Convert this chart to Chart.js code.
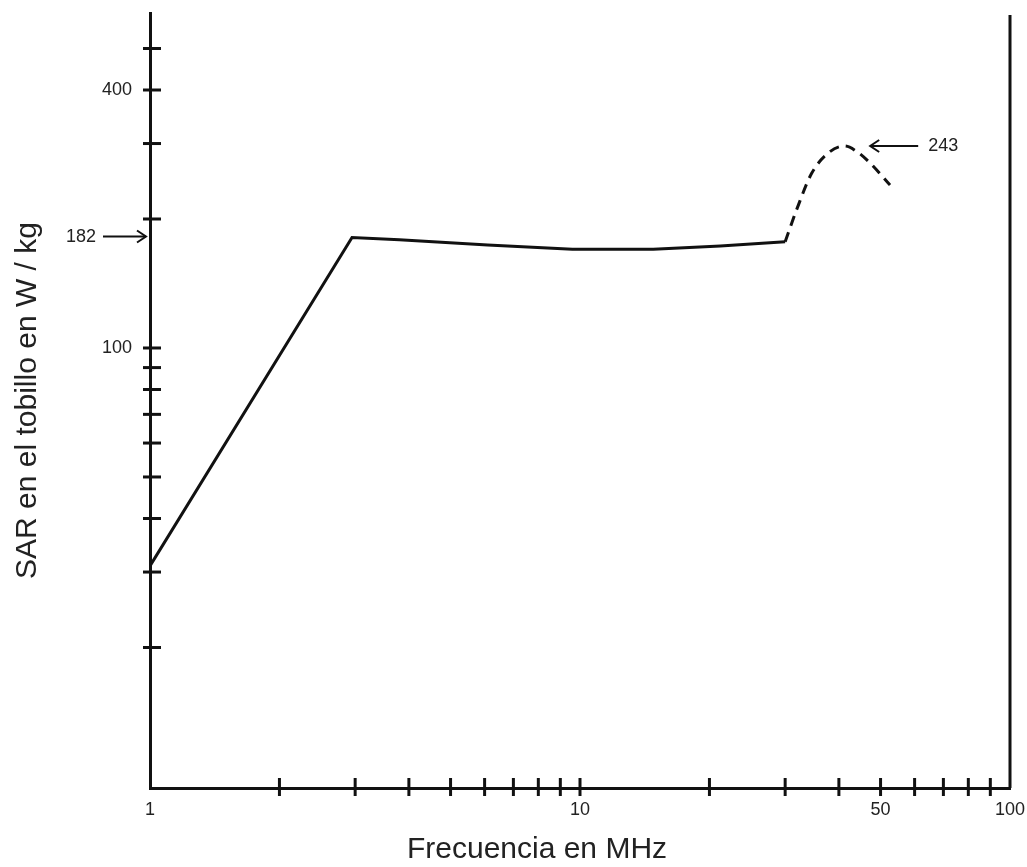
<!DOCTYPE html>
<html>
<head>
<meta charset="utf-8">
<script src="https://cdn.jsdelivr.net/npm/chart.js@4.4.1/dist/chart.umd.min.js"></script>
<style>
  body { margin: 0; background: #fff; overflow: hidden; }
  #wrap { width: 1027px; height: 867px; }
</style>
</head>
<body>
<div id="wrap"><canvas id="myChart"></canvas></div>
<script>
// solid part of the curve (MHz, W/kg)
const freqSolid = [1, 2.95, 3.8, 6.1, 9.6, 14.8, 21.2, 30]
const sarSolid = [31, 181, 179, 174, 170, 170, 173, 177]
// dashed part (resonance bump)
const freqDashed = [30, 32, 34.6, 38.1, 41.3, 44.1, 47.3, 52.6]
const sarDashed = [177, 212, 256, 287, 296, 287, 270, 240]

const xTicks = [1, 2, 3, 4, 5, 6, 7, 8, 9, 10, 20, 30, 40, 50, 60, 70, 80, 90, 100]
const xLabels = [1, 10, 50, 100]
const yTicks = [20, 30, 40, 50, 60, 70, 80, 90, 100, 200, 300, 400, 500]
const yLabels = [100, 400]

// marked values with arrows
const markLeft = { label: '182', sar: 182 }
const markPeak = { label: '243', freq: 47.3, sar: 296 }

const ink = '#111'
const textColor = '#222'
Chart.defaults.font.family = "'Liberation Sans', Arial, sans-serif"

const toPoints = (xs, ys) => xs.map((x, i) => ({ x: x, y: ys[i] }))

function arrow(ctx, x1, y, x2) {
    // line from x1 to x2, head at x2
    const dir = x2 > x1 ? 1 : -1
    ctx.beginPath()
    ctx.moveTo(x1, y)
    ctx.lineTo(x2, y)
    ctx.stroke()
    ctx.beginPath()
    ctx.moveTo(x2 - dir * 9, y - 6)
    ctx.lineTo(x2, y)
    ctx.lineTo(x2 - dir * 9, y + 6)
    ctx.stroke()
}

const extras = {
    id: 'extras',
    afterDraw(chart) {
        const ctx = chart.ctx
        const xs = chart.scales.x
        const ys = chart.scales.y
        const area = chart.chartArea
        ctx.save()
        ctx.strokeStyle = ink
        ctx.lineWidth = 3
        // ticks crossing the axes
        yTicks.forEach(v => {
            const y = ys.getPixelForValue(v)
            ctx.beginPath()
            ctx.moveTo(area.left - 7, y)
            ctx.lineTo(area.left + 11, y)
            ctx.stroke()
        })
        xTicks.slice(1, -1).forEach(v => {
            const x = xs.getPixelForValue(v)
            ctx.beginPath()
            ctx.moveTo(x, area.bottom - 10)
            ctx.lineTo(x, area.bottom + 8)
            ctx.stroke()
        })
        // right border
        ctx.beginPath()
        ctx.moveTo(area.right, area.top + 2)
        ctx.lineTo(area.right, area.bottom)
        ctx.stroke()

        // annotations
        ctx.lineWidth = 2
        ctx.fillStyle = textColor
        ctx.font = "18px 'Liberation Sans', Arial, sans-serif"
        ctx.textBaseline = 'middle'
        const y182 = ys.getPixelForValue(markLeft.sar)
        arrow(ctx, area.left - 47, y182, area.left - 4)
        ctx.textAlign = 'right'
        ctx.fillText(markLeft.label, area.left - 54, y182)

        const px = xs.getPixelForValue(markPeak.freq)
        const py = ys.getPixelForValue(markPeak.sar)
        arrow(ctx, px + 48, py, px)
        ctx.textAlign = 'left'
        ctx.fillText(markPeak.label, px + 58, py)

        // x axis title
        ctx.font = "30px 'Liberation Sans', Arial, sans-serif"
        ctx.textAlign = 'center'
        ctx.fillText('Frecuencia en MHz', 537, 850)
        ctx.restore()
    }
}

const myChart = new Chart(document.getElementById('myChart'), {
    type: 'line',
    data: {
        datasets: [{
            data: toPoints(freqSolid, sarSolid),
            borderColor: ink,
            borderWidth: 3,
            pointRadius: 0,
            tension: 0
        }, {
            data: toPoints(freqDashed, sarDashed),
            borderColor: ink,
            borderWidth: 3,
            borderDash: [10, 7],
            pointRadius: 0,
            cubicInterpolationMode: 'monotone'
        }]
    },
    options: {
        responsive: true,
        maintainAspectRatio: false,
        animation: false,
        layout: { padding: { top: 13, right: 17, left: 0, bottom: 0 } },
        plugins: { legend: { display: false }, tooltip: { enabled: false } },
        scales: {
            x: {
                type: 'logarithmic',
                min: 1,
                max: 100,
                afterBuildTicks: s => { s.ticks = xTicks.map(v => ({ value: v })) },
                afterFit: s => {
                    s.height = 79
                    s.paddingLeft = 0
                    s.paddingRight = 0
                },
                grid: { display: false, drawTicks: false },
                border: { display: true, color: ink, width: 3 },
                ticks: {
                    autoSkip: false,
                    maxRotation: 0,
                    padding: 11,
                    color: textColor,
                    font: { size: 18 },
                    callback: v => xLabels.includes(v) ? String(v) : ''
                }
            },
            y: {
                type: 'logarithmic',
                min: 9.4,
                max: 605,
                afterBuildTicks: s => { s.ticks = yTicks.map(v => ({ value: v })) },
                afterFit: s => {
                    s.width = 150
                    s.paddingTop = 0
                    s.paddingBottom = 0
                },
                grid: { display: false, drawTicks: false },
                border: { display: true, color: ink, width: 3 },
                title: {
                    display: true,
                    text: 'SAR en el tobillo en W / kg',
                    color: textColor,
                    font: { size: 30 },
                    padding: { top: 10, bottom: 0 }
                },
                ticks: {
                    autoSkip: false,
                    padding: 18,
                    color: textColor,
                    font: { size: 18 },
                    callback: v => yLabels.includes(v) ? String(v) : ''
                }
            }
        }
    },
    plugins: [extras]
})
</script>
</body>
</html>
